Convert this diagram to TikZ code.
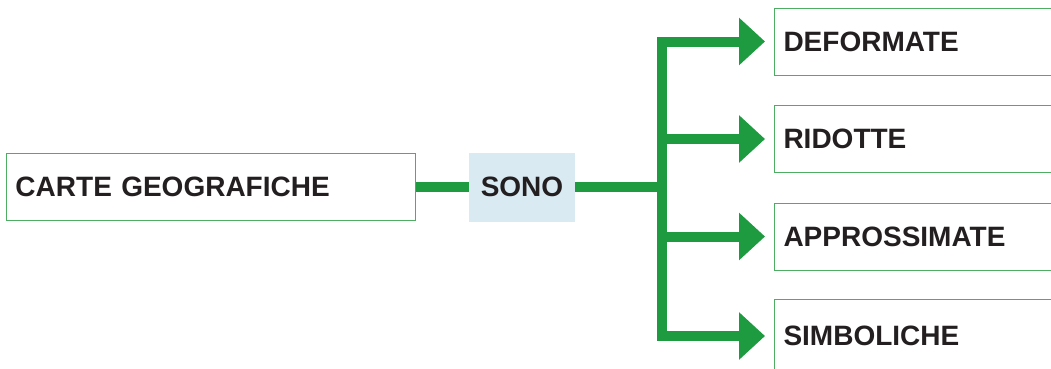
\documentclass[tikz,border=0pt]{standalone}
\usepackage{fontspec}
\setmainfont{Liberation Sans}
\usetikzlibrary{arrows.meta}
\definecolor{mapgreen}{HTML}{1E9A40}
\definecolor{boxgreen}{HTML}{4DAE63}
\definecolor{sonoblue}{HTML}{DAEAF3}
\definecolor{inkblack}{HTML}{231F20}

\begin{document}
\begin{tikzpicture}[x=1pt, y=-1pt, node distance=97.5pt,
	box node/.style={draw=boxgreen, line width=1pt, text=inkblack, font=\fontsize{28}{33}\selectfont\bfseries, anchor=west, minimum height=67pt, inner sep=9pt, text width=300pt, align=left},
	verb node/.style={fill=sonoblue, text=inkblack, font=\fontsize{28}{33}\selectfont\bfseries, minimum width=106pt, minimum height=69pt, inner sep=0pt},
	link/.style={draw=mapgreen, line width=10pt},
	branch/.style={link, -{Triangle[length=26pt, width=46pt]}, shorten >=9pt}]
	\useasboundingbox (0,0) rectangle (1051,368);
	\clip (0,0) rectangle (1051,368);

	\node[box node, text width=391pt] (C) at (6,187) {CARTE GEOGRAFICHE};
	\node[verb node] (S) at (522,187) {SONO};
	\node[box node] (D) at (774,41.5) {DEFORMATE};
	\node[box node] (R) [below of=D] {RIDOTTE};
	\node[box node] (A) [below of=R] {APPROSSIMATE};
	\node[box node, minimum height=74pt] (B) [below of=A, yshift=-2pt] {SIMBOLICHE};
	\coordinate (split) at (662,187);

	\draw[link] (C) -- (S);
	\draw[link] (S) -- (split);
	\draw[link, line cap=rect] (split |- D.west) -- (split |- B.west);
	\draw[branch] (split |- D.west) -- (D.west);
	\draw[branch] (split |- R.west) -- (R.west);
	\draw[branch] (split |- A.west) -- (A.west);
	\draw[branch] (split |- B.west) -- (B.west);
\end{tikzpicture}
\end{document}
